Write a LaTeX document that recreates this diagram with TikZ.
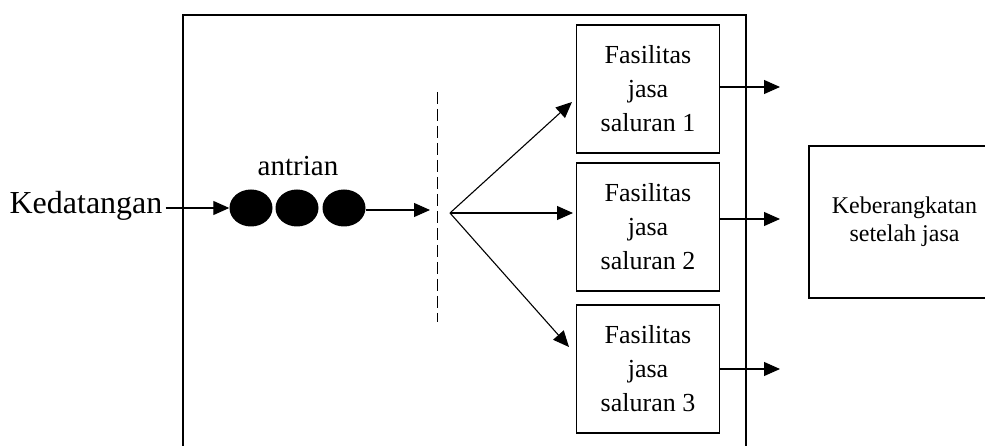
\documentclass[tikz,border=0pt]{standalone}
\usepackage{fontspec}
\setmainfont{Liberation Serif}
\usetikzlibrary{arrows.meta,shapes.geometric}
\begin{document}
\begin{tikzpicture}[x=1pt,y=-1pt,
  arr/.style={-{Triangle[length=16pt,width=14pt]}, line width=1.1pt},
  fac/.style={draw, line width=1.8pt, minimum width=143pt, minimum height=128pt,
    align=center, inner sep=0pt, font=\fontsize{26}{34}\selectfont},
  dot/.style={fill=black, ellipse, minimum width=43pt, minimum height=37pt, inner sep=0pt},
  frame/.style={line width=2.5pt}]
\useasboundingbox (0,0) rectangle (985,446);
% system frame
\draw[frame] (183,470) -- (183,15) -- (746,15) -- (746,470);
% nodes
\node[font=\fontsize{32}{36}\selectfont, inner sep=3pt] (ked) at (86,206) {Kedatangan};
\node[font=\fontsize{29}{34}\selectfont, inner sep=0pt] (antr) at (298,166) {antrian};
\node[dot] (e1) at (251,208) {};
\node[dot] (e2) at (297,208) {};
\node[dot] (e3) at (344,208) {};
\node[fac] (b1) at (648,89) {Fasilitas\\jasa\\saluran 1};
\node[fac] (b2) at (648,227) {Fasilitas\\jasa\\saluran 2};
\node[fac] (b3) at (648,369) {Fasilitas\\jasa\\saluran 3};
\node[draw, line width=1.8pt, minimum width=191pt, minimum height=152pt, align=center,
  inner sep=0pt, font=\fontsize{24}{28}\selectfont] (dep) at (904.5,222) {Keberangkatan\\setelah jasa};
% coordinates
\coordinate (q) at (430,210);
\coordinate (d1) at (437,92);
\coordinate (d2) at (437,322);
\coordinate (f) at (450,213);
\coordinate (t1) at (572,102);
\coordinate (t2) at (573,213);
\coordinate (t3) at (569,347);
\coordinate (o1) at (780,87);
\coordinate (o2) at (780,219);
\coordinate (o3) at (780,369);
% connectors
\draw[arr] (ked.east |- e1.west) -- (e1.west);
\draw[arr] (e3.east |- q) -- (q);
\draw[line width=1pt, dash pattern=on 12pt off 5pt] (d1) -- (d2);
\draw[arr] (f) -- (t1);
\draw[arr] (f) -- (t2);
\draw[arr] (f) -- (t3);
\draw[arr] (b1.east |- o1) -- (o1);
\draw[arr] (b2.east |- o2) -- (o2);
\draw[arr] (b3.east |- o3) -- (o3);
\end{tikzpicture}
\end{document}
